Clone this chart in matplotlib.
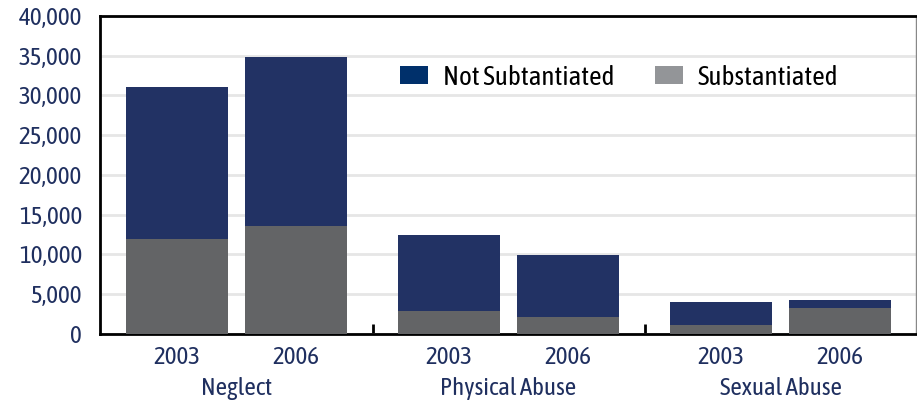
import matplotlib.pyplot as plt
from matplotlib.patches import Patch
from matplotlib.ticker import FuncFormatter

# Data
groups = ["Neglect", "Physical Abuse", "Sexual Abuse"]
years = ["2003", "2006"]
substantiated = [11900, 13600, 2900, 2150, 1150, 3300]
total_reports = [31100, 34800, 12500, 10000, 4050, 4300]
not_substantiated = [t - s for t, s in zip(total_reports, substantiated)]

NAVY = "#223264"
GREY = "#636466"
LEGEND_NAVY = "#00306b"
LEGEND_GREY = "#939598"
TEXT_NAVY = "#1f2f5f"
FONT = ["Asap Condensed", "Liberation Sans Narrow", "Liberation Sans", "DejaVu Sans"]

plt.rcParams["font.family"] = FONT

# bar positions: two bars per group, wider gap between groups
bar_step = 1.0
group_gap = 1.286
positions = []
for g in range(len(groups)):
    start = g * (bar_step + group_gap)
    positions += [start, start + bar_step]
group_centres = [(positions[2 * g] + positions[2 * g + 1]) / 2 for g in range(len(groups))]
separators = [(positions[2 * g + 1] + positions[2 * g + 2]) / 2 for g in range(len(groups) - 1)]

fig = plt.figure(figsize=(9.17, 4.0), dpi=100)
ax = fig.add_axes([100 / 917, 66 / 400, 816 / 917, 318 / 400])

width = 0.857
ax.bar(positions, substantiated, width=width, color=GREY, zorder=3)
ax.bar(positions, not_substantiated, width=width, bottom=substantiated, color=NAVY, zorder=3)

ax.set_xlim(-0.647, 6.21)
ax.set_ylim(0, 40000)
ax.set_yticks(range(0, 40001, 5000))
ax.yaxis.set_major_formatter(FuncFormatter(lambda v, _: f"{int(v):,}"))
ax.tick_params(axis="y", length=0, labelsize=18, labelcolor=TEXT_NAVY, pad=13)
ax.grid(axis="y", color="#e6e6e6", linewidth=2, zorder=0)

ax.set_xticks(positions)
ax.set_xticklabels(years * len(groups))
ax.tick_params(axis="x", which="major", length=0, labelsize=18, labelcolor=TEXT_NAVY, pad=9)
ax.set_xticks(separators, minor=True)
ax.tick_params(axis="x", which="minor", direction="in", length=7, width=2, color="black")

for centre, name in zip(group_centres, groups):
    ax.text(centre, -0.17, name, transform=ax.get_xaxis_transform(),
            ha="center", va="center", fontsize=18, color=TEXT_NAVY)

for side in ["left", "bottom", "top"]:
    ax.spines[side].set_linewidth(2)
    ax.spines[side].set_color("black")
ax.spines["right"].set_linewidth(1)
ax.spines["right"].set_color("#888888")

handles = [
    Patch(facecolor=LEGEND_NAVY, label="Not Subtantiated"),
    Patch(facecolor=LEGEND_GREY, label="Substantiated"),
]
ax.legend(handles=handles, ncol=2, loc="center left", bbox_to_anchor=(0.358, 0.808),
          frameon=False, fontsize=19.5, handlelength=1.04, handleheight=0.67,
          columnspacing=1.48, handletextpad=0.55, borderpad=0.3, borderaxespad=0)

fig.savefig("out.png", dpi=100)
